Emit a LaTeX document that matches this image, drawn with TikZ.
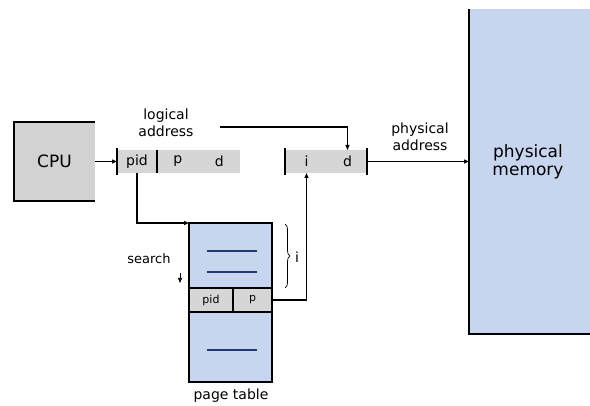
\documentclass[tikz,border=0pt]{standalone}
\usepackage{fontspec}
\setmainfont{DejaVu Sans}
\usetikzlibrary{positioning,arrows.meta,decorations.pathreplacing}
\definecolor{barfill}{HTML}{D6D6D6}
\definecolor{cpufill}{HTML}{D2D2D2}
\definecolor{memfill}{HTML}{C7D6EE}
\definecolor{entryline}{HTML}{1F3A6E}
\newcommand{\lblfont}{\fontsize{14}{17}\selectfont}
\newcommand{\bigfont}{\fontsize{17}{18}\selectfont}

\begin{document}
\begin{tikzpicture}[x=1pt,y=-1pt,>={Triangle[length=5pt,width=4pt]},line width=1.2pt,
  field/.style={fill=barfill,minimum height=23pt,inner sep=0pt,outer sep=0pt,font=\lblfont},
  fillbox/.style={inner sep=0pt,outer sep=0pt},
  entry/.style={fillbox,draw,fill=barfill,minimum height=24pt,font=\fontsize{11}{13}\selectfont},
  lbl/.style={font=\lblfont,align=center,inner sep=0pt}]
\useasboundingbox (0,0) rectangle (590,406);
% cpu
\node[fillbox,fill=cpufill,minimum width=81pt,minimum height=79pt,font=\bigfont] (cpu) at (54.5,161.5) {CPU};
\draw (cpu.north east) -- (cpu.north west) -- (cpu.south west) -- (cpu.south east);
% logical address
\node[field,minimum width=40pt] (pid) at (137,161.5) {pid};
\node[field,minimum width=41.5pt,right=0pt of pid] (p) {p};
\node[field,minimum width=41.5pt,right=0pt of p] (d) {d};
\draw ([yshift=2pt]pid.north west) -- ([yshift=-2pt]pid.south west);
\draw (pid.north east) -- (pid.south east);
\node[lbl] (laddr) at (166,123) {logical\\address};
\draw[->] (cpu.east) -- (pid.west);
% physical address
\node[field,minimum width=43pt] (i) at (306.5,161.5) {i};
\node[field,minimum width=39pt,right=0pt of i] (pd) {d};
\draw ([yshift=2pt]i.north west) -- ([yshift=-2pt]i.south west);
\draw ([yshift=2pt]pd.north east) -- ([yshift=-2pt]pd.south east);
\coordinate (dtop) at (220,127);
\draw[->] (dtop) -| (pd.north);
\node[lbl] (paddr) at (420,137) {physical\\address};
% memory
\node[fillbox,fill=memfill,minimum width=125pt,minimum height=325pt] (mem) at (531.5,171.5) {};
\draw (mem.north west) -- (mem.south west) -- (mem.south east);
\node[lbl,font=\bigfont] (memtxt) at (528,162) {physical\\memory};
\draw[->] (pd.east) -- (mem.west |- pd.east);
% page table
\node[fillbox,draw,fill=memfill,minimum width=83pt,minimum height=65pt] (ptop) at (230.5,255.5) {};
\node[entry,minimum width=44pt,anchor=north west] (epid) at (ptop.south west) {pid};
\node[entry,minimum width=39pt,anchor=north east] (ep) at (ptop.south east) {p};
\node[fillbox,draw,fill=memfill,minimum width=83pt,minimum height=70pt,anchor=north] (pbot) at (ptop.south |- epid.south) {};
\draw[entryline,line width=1.5pt] (207,251) -- (257,251);
\draw[entryline,line width=1.5pt] (207,272) -- (257,272);
\draw[entryline,line width=1.5pt] (207,350) -- (257,350);
\draw[->] (pid.south) |- (ptop.north west);
\draw[->] (ep.east) -| (i.south);
\draw[line width=0.7pt,decorate,decoration={brace,amplitude=5pt}] (285,224) -- (285,288);
\node[lbl] (ilbl) at (297,257) {i};
\node[lbl,font=\fontsize{13}{15}\selectfont] (search) at (149,259) {search};
\coordinate (s1) at (180,273);
\coordinate (s2) at (180,283);
\draw[->,line width=0.6pt] (s1) -- (s2);
\node[lbl] (ptlbl) at (231,396) {page table};
\end{tikzpicture}
\end{document}
